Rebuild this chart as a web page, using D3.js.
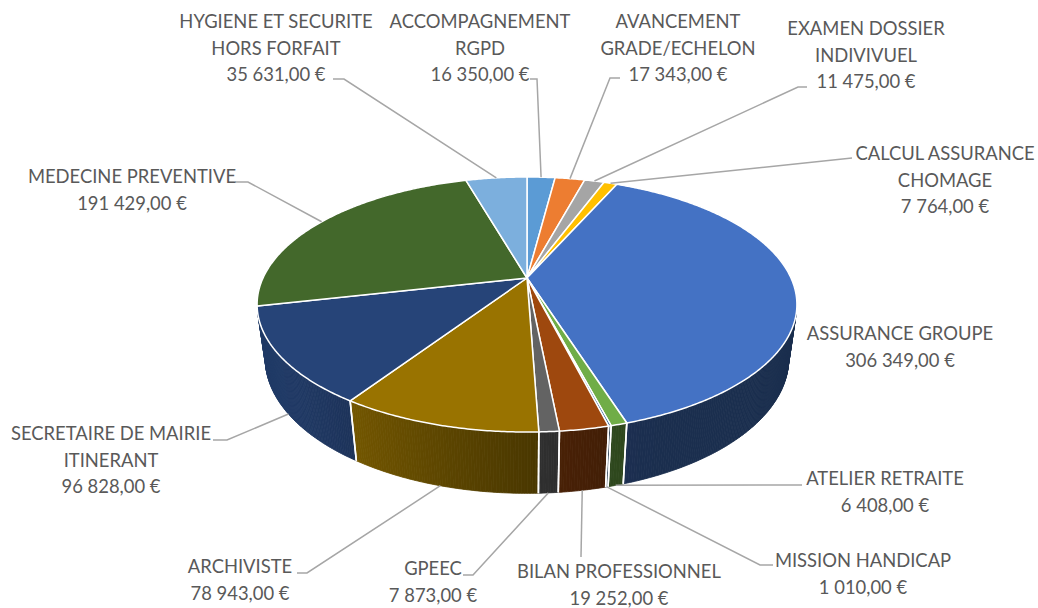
<!DOCTYPE html>
<html>
<head>
<meta charset="utf-8">
<script src="https://cdn.jsdelivr.net/npm/d3@7/dist/d3.min.js"></script>
<style>
  body { margin: 0; background: #fff; }
  svg text { font-family: Lato, "Open Sans", sans-serif; fill: #595959; }
</style>
</head>
<body>
<div id="chart"></div>
<script>
// DATA (slices in drawing order, clockwise from 12 o'clock)
const categories = [
  ['ACCOMPAGNEMENT', 'RGPD'],
  ['AVANCEMENT', 'GRADE/ECHELON'],
  ['EXAMEN DOSSIER', 'INDIVIVUEL'],
  ['CALCUL ASSURANCE', 'CHOMAGE'],
  ['ASSURANCE GROUPE'],
  ['ATELIER RETRAITE'],
  ['MISSION HANDICAP'],
  ['BILAN PROFESSIONNEL'],
  ['GPEEC'],
  ['ARCHIVISTE'],
  ['SECRETAIRE DE MAIRIE', 'ITINERANT'],
  ['MEDECINE PREVENTIVE'],
  ['HYGIENE ET SECURITE', 'HORS FORFAIT']
];
const values = [16350, 17343, 11475, 7764, 306349, 6408, 1010, 19252, 7873, 78943, 96828, 191429, 35631];
const colors = ['#5b9bd5', '#ed7d31', '#a5a5a5', '#ffc000', '#4472c4', '#70ad47', '#255e91',
                '#9e480e', '#636363', '#997300', '#264478', '#43682b', '#7cafdd'];

// LAYOUT
const width = 1038, height = 608;
// perspective disc: centre, radii, perspective strength, bottom shrink, thickness
const disc = { cx: 527, cy: 278, rx: 264, ry: 122, k: 0.208, m: 0.03, d: 55 };
const lineH = 26.5;
// label centre x, first baseline, leader start, leader elbow (null = no leader)
const labelPos = [
  { x: 480, y: 28,  a: [530, 79],  b: [537, 79] },
  { x: 678, y: 28,  a: [620, 78],  b: [610, 78] },
  { x: 866, y: 35,  a: [807, 87],  b: [798, 87] },
  { x: 945, y: 160, a: [852, 158], b: [852, 158] },
  { x: 900, y: 340, a: null,       b: null },
  { x: 885, y: 485, a: [802, 485], b: [802, 485] },
  { x: 863, y: 567, a: [773, 565], b: [760, 565] },
  { x: 619, y: 578, a: [581, 557], b: [581, 557] },
  { x: 433, y: 575, a: [463, 575], b: [473, 575] },
  { x: 240, y: 573, a: [297, 573], b: [307, 573] },
  { x: 111, y: 440, a: [213, 440], b: [227, 440] },
  { x: 132, y: 183, a: [235, 182], b: [248, 182] },
  { x: 276, y: 28,  a: [333, 79],  b: [344, 79] }
];

// project an angle on the rim (radians, clockwise from top) at level z (0 top, 1 bottom)
function project(theta, z) {
  const u = Math.sin(theta), v = -Math.cos(theta);
  const w = 1 - disc.k * v + disc.m * z;
  return [disc.cx + disc.rx * u / w, disc.cy + (disc.ry * v + disc.d * z) / w];
}

// side shading: dark on the right, lighter towards the left
function shadeFactor(theta) {
  const deg = theta * 180 / Math.PI;
  const t = Math.max(0, Math.min(1, (deg - 155) / 85));
  return 0.40 + 0.45 * t * t * (3 - 2 * t);
}
function shade(color, f) {
  const c = d3.rgb(color);
  return d3.rgb(c.r * f, c.g * f, c.b * f).formatHex();
}

function signedArea(pts) {
  let s = 0;
  for (let i = 0; i < pts.length; i++) {
    const p = pts[i], q = pts[(i + 1) % pts.length];
    s += p[0] * q[1] - q[0] * p[1];
  }
  return s / 2;
}

function arcPoints(a0, a1, z) {
  const n = Math.max(2, Math.ceil((a1 - a0) / (Math.PI / 360)));
  const pts = [];
  for (let i = 0; i <= n; i++) pts.push(project(a0 + (a1 - a0) * i / n, z));
  return pts;
}

function frontFacing(theta) {
  const e = 0.002;
  return signedArea([project(theta - e, 0), project(theta + e, 0), project(theta + e, 1), project(theta - e, 1)]) < 0;
}

const svg = d3.select('#chart').append('svg')
  .attr('width', width)
  .attr('height', height);

const arcs = d3.pie().sort(null).value(d => d)(values);
const line = d3.line();

// SIDES
const sideGroup = svg.append('g').classed('sides', true);
arcs.forEach((a, i) => {
  const step = Math.PI / 360;
  const n = Math.max(1, Math.ceil((a.endAngle - a.startAngle) / step));
  for (let j = 0; j < n; j++) {
    const t0 = a.startAngle + (a.endAngle - a.startAngle) * j / n;
    const t1 = a.startAngle + (a.endAngle - a.startAngle) * (j + 1) / n;
    const quad = [project(t0, 0), project(t1, 0), project(t1, 1), project(t0, 1)];
    if (signedArea(quad) >= 0) continue;
    const fill = shade(colors[i], shadeFactor((t0 + t1) / 2));
    sideGroup.append('path')
      .attr('d', line(quad) + 'Z')
      .attr('fill', fill)
      .attr('stroke', fill)
      .attr('stroke-width', 0.8);
  }
});
// white seams between slices on the side
arcs.forEach(a => {
  [a.startAngle, a.endAngle].forEach(t => {
    if (!frontFacing(t)) return;
    sideGroup.append('path')
      .attr('d', line([project(t, 0), project(t, 1)]))
      .attr('stroke', '#fff')
      .attr('stroke-width', 1.6);
  });
});

// TOP FACES
svg.append('g').classed('tops', true)
  .selectAll('path')
  .data(arcs)
  .enter()
  .append('path')
  .attr('d', a => line([[disc.cx, disc.cy]].concat(arcPoints(a.startAngle, a.endAngle, 0))) + 'Z')
  .attr('fill', (a, i) => colors[i])
  .attr('stroke', '#fff')
  .attr('stroke-width', 1.5)
  .attr('stroke-linejoin', 'round');

// LEADER LINES
const leaders = svg.append('g').classed('leaders', true);
arcs.forEach((a, i) => {
  const p = labelPos[i];
  if (!p.a) return;
  const mid = (a.startAngle + a.endAngle) / 2;
  const z = -Math.cos(mid) > 0.3 ? 1 : 0;
  leaders.append('path')
    .attr('d', line([p.a, p.b, project(mid, z)]))
    .attr('fill', 'none')
    .attr('stroke', '#a6a6a6')
    .attr('stroke-width', 1.5);
});

// LABELS
const fmt = v => d3.format(',.2f')(v).replace(/,/g, ' ').replace('.', ',') + ' €';
const labels = svg.append('g').classed('labels', true);
arcs.forEach((a, i) => {
  const p = labelPos[i];
  const t = labels.append('text')
    .attr('text-anchor', 'middle')
    .attr('font-size', 18.4);
  categories[i].concat([fmt(values[i])]).forEach((s, k) => {
    t.append('tspan').attr('x', p.x).attr('y', p.y + k * lineH).text(s);
  });
});
</script>
</body>
</html>
